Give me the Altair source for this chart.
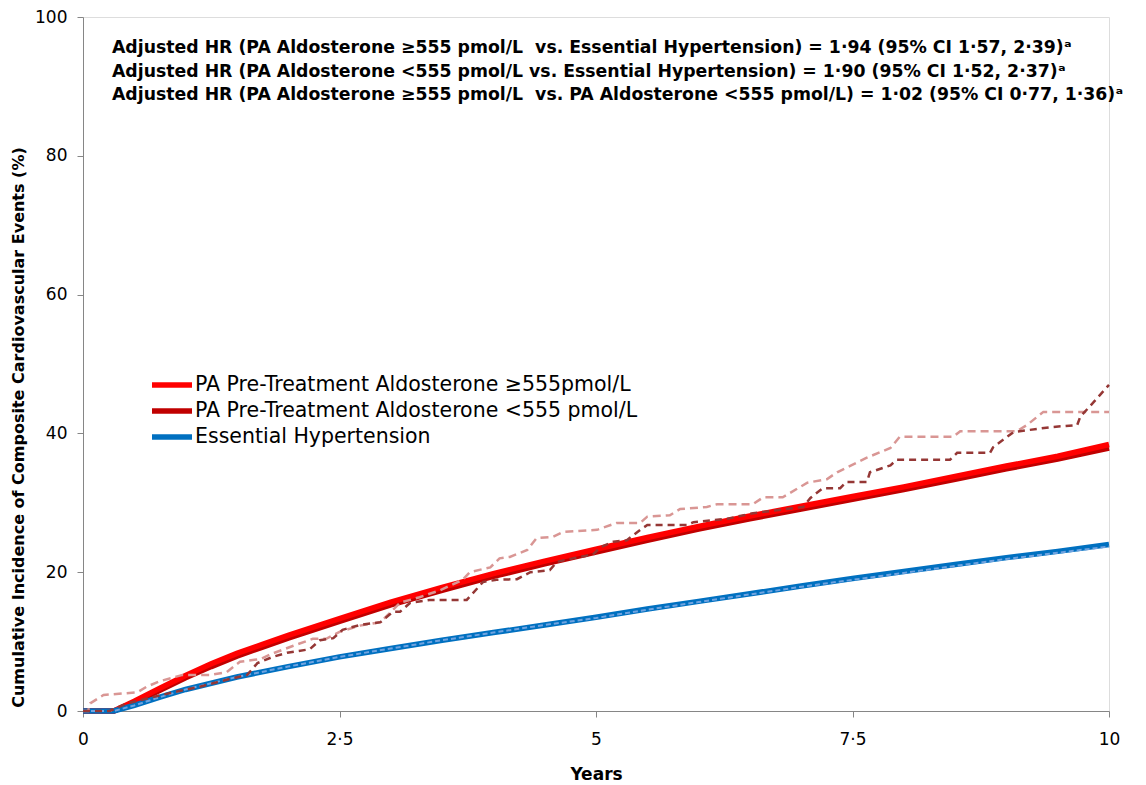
import altair as alt
import pandas as pd

S1 = "PA Pre-Treatment Aldosterone ≥555pmol/L"
S2 = "PA Pre-Treatment Aldosterone <555 pmol/L"
S3 = "Essential Hypertension"
series = [S1, S2, S3]
colors = ["#FF0000", "#C00000", "#0070C0"]

# Adjusted (smooth) curves
red_t = [0, 0.3, 0.5, 0.75, 1.0, 1.25, 1.5, 1.75, 2.0, 2.5, 3.0, 3.5, 4.0, 4.5, 5.0,
         5.5, 6.0, 6.5, 7.0, 7.5, 8.0, 8.5, 9.0, 9.5, 10.0]
red_hi_v = [0, 0, 1.4, 3.3, 5.1, 6.8, 8.3, 9.6, 10.9, 13.3, 15.7, 17.8, 19.8, 21.6, 23.3,
            25.0, 26.6, 28.1, 29.5, 30.9, 32.3, 33.8, 35.3, 36.7, 38.4]
red_lo_v = [0, 0, 1.2, 3.0, 4.8, 6.4, 7.9, 9.2, 10.5, 12.9, 15.3, 17.4, 19.4, 21.2, 22.9,
            24.6, 26.2, 27.7, 29.1, 30.5, 31.9, 33.4, 34.9, 36.3, 37.9]
blue_t = [0, 0.3, 0.5, 0.75, 1.0, 1.5, 2.0, 2.5, 3.0, 3.5, 4.0, 4.5, 5.0, 5.5, 6.0,
          6.5, 7.0, 7.5, 8.0, 8.5, 9.0, 9.5, 10.0]
blue_v = [0, 0, 0.8, 2.0, 3.1, 4.9, 6.4, 7.8, 9.0, 10.2, 11.3, 12.4, 13.5, 14.7, 15.8,
          16.9, 18.0, 19.1, 20.1, 21.1, 22.1, 23.0, 24.0]
blue_km_v = [0, 0, 0.8, 2.0, 3.1, 4.9, 6.4, 7.8, 9.0, 10.2, 11.3, 12.4, 13.4, 14.6, 15.7,
             16.8, 17.9, 18.9, 19.9, 20.9, 21.9, 22.8, 23.7]

# Kaplan-Meier style (dashed) curves
pink_t = [0, 0.05, 0.07, 0.2, 0.53, 0.62, 0.75, 0.97, 1.24, 1.4, 1.53, 1.73, 1.85, 2.05,
          2.24, 2.37, 2.5, 2.7, 2.9, 3.09, 3.28, 3.48, 3.7, 3.77, 3.97, 4.06, 4.16, 4.33,
          4.42, 4.58, 4.68, 5.01, 5.2, 5.43, 5.5, 5.72, 5.82, 6.08, 6.18, 6.53, 6.63, 6.82,
          7.06, 7.25, 7.35, 7.64, 7.87, 7.96, 8.48, 8.55, 9.1, 9.2, 9.36, 10.0]
pink_v = [0, 0, 1.1, 2.3, 2.7, 3.5, 4.3, 5.2, 5.2, 5.6, 7.1, 7.5, 8.3, 9.4,
          10.4, 10.4, 11.4, 12.3, 12.8, 15.6, 16.4, 17.4, 18.9, 20.0, 20.7, 22.0, 22.2, 23.2,
          24.9, 25.1, 25.8, 26.1, 27.1, 27.1, 28.0, 28.2, 29.1, 29.4, 29.8, 29.8, 30.8, 30.8,
          32.9, 33.4, 34.4, 36.5, 37.9, 39.5, 39.5, 40.3, 40.3, 41.2, 43.1, 43.1]
dark_t = [0, 0.26, 0.43, 0.68, 0.85, 1.14, 1.4, 1.6, 1.7, 1.85, 1.99, 2.21, 2.31, 2.44,
          2.53, 2.7, 2.9, 3.02, 3.09, 3.19, 3.38, 3.74, 3.9, 4.03, 4.23, 4.36, 4.55, 4.62,
          4.84, 4.97, 5.04, 5.17, 5.3, 5.43, 5.5, 5.89, 5.95, 6.28, 6.53, 7.02, 7.09, 7.21,
          7.38, 7.44, 7.64, 7.67, 7.87, 7.93, 8.45, 8.52, 8.84, 8.87, 9.07, 9.43, 9.69, 9.72,
          9.85, 10.0]
dark_v = [0, 0, 1.1, 2.0, 2.6, 3.5, 4.5, 5.2, 6.9, 7.8, 8.4, 8.9, 10.2, 10.5,
          11.7, 12.4, 12.8, 14.3, 14.3, 15.6, 16.0, 16.0, 18.6, 18.9, 19.0, 20.0, 20.3, 21.5,
          22.2, 22.5, 23.6, 24.4, 24.6, 26.1, 26.8, 26.8, 27.2, 27.7, 28.5, 29.4, 30.7, 32.1,
          32.1, 33.0, 33.0, 34.4, 35.4, 36.2, 36.2, 37.2, 37.2, 38.0, 40.2, 40.9, 41.2, 42.4,
          44.5, 47.0]

x_ticks = [0, 2.5, 5, 7.5, 10]
y_ticks = [0, 20, 40, 60, 80, 100]

notes = [
    "Adjusted HR (PA Aldosterone ≥555 pmol/L\u00a0 vs. Essential Hypertension) = 1·94 (95% CI 1·57, 2·39)ᵃ",
    "Adjusted HR (PA Aldosterone <555 pmol/L vs. Essential Hypertension) = 1·90 (95% CI 1·52, 2·37)ᵃ",
    "Adjusted HR (PA Aldosterone ≥555 pmol/L\u00a0 vs. PA Aldosterone <555 pmol/L) = 1·02 (95% CI 0·77, 1·36)ᵃ",
]

solid = pd.concat([
    pd.DataFrame({"t": red_t, "v": red_lo_v, "s": S2}),
    pd.DataFrame({"t": red_t, "v": red_hi_v, "s": S1}),
    pd.DataFrame({"t": blue_t, "v": blue_v, "s": S3}),
], ignore_index=True)
blue_km = pd.DataFrame({"t": blue_t, "v": blue_km_v})
pink_km = pd.DataFrame({"t": pink_t, "v": pink_v})
dark_km = pd.DataFrame({"t": dark_t, "v": dark_v})

FONT = "DejaVu Sans"
AX = "#868686"

xenc = alt.X("t:Q", scale=alt.Scale(domain=[0, 10], nice=False),
             axis=alt.Axis(values=x_ticks, grid=False, domainColor=AX, tickColor=AX, tickSize=6,
                           format="~g", labelExpr="replace(datum.label, '.', '·')", labelFlush=False,
                           labelFont=FONT, labelFontSize=17, labelColor="black", labelPadding=14,
                           title="Years", titleFont=FONT, titleFontSize=17, titleFontWeight="bold",
                           titleColor="black", titleY=68, titleBaseline="alphabetic"))
yenc = alt.Y("v:Q", scale=alt.Scale(domain=[0, 100], nice=False),
             axis=alt.Axis(values=y_ticks, grid=False, domainColor=AX, tickColor=AX, tickSize=6,
                           labelFont=FONT, labelFontSize=17, labelColor="black", labelPadding=10,
                           title="Cumulative Incidence of Composite Cardiovascular Events (%)",
                           titleFont=FONT, titleFontSize=16, titleFontWeight="bold", titleColor="black",
                           titleX=-65, titleY=410, titleAngle=270, titleAlign="center",
                           titleBaseline="middle"))

solid_layer = alt.Chart(solid).mark_line(strokeWidth=5.5).encode(
    x=xenc, y=yenc,
    color=alt.Color("s:N", sort=None,
                    scale=alt.Scale(domain=series, range=colors),
                    legend=None),
)

blue_km_layer = alt.Chart(blue_km).mark_line(color="#6FA3E0", strokeWidth=2, strokeDash=[5, 3]).encode(
    x="t:Q", y="v:Q")
pink_layer = alt.Chart(pink_km).mark_line(color="#D99694", strokeWidth=2.5, strokeDash=[8, 5]).encode(
    x="t:Q", y="v:Q")
dark_layer = alt.Chart(dark_km).mark_line(color="#953735", strokeWidth=2.5, strokeDash=[7, 5]).encode(
    x="t:Q", y="v:Q")

# manual legend (three rows)
legend_layers = []
for i, (name, col) in enumerate(zip(series, colors)):
    ypos = 368 + i * 26
    ldf = pd.DataFrame({"name": [name]})
    legend_layers.append(
        alt.Chart(ldf).mark_rule(color=col, strokeWidth=5.5).encode(
            x=alt.value(69), x2=alt.value(109), y=alt.value(ypos))
    )
    legend_layers.append(
        alt.Chart(ldf).mark_text(align="left", baseline="middle", font=FONT, fontSize=20.5,
                                 color="black").encode(
            text="name:N", x=alt.value(112), y=alt.value(ypos))
    )

note_layers = []
for i, txt in enumerate(notes):
    note_layers.append(
        alt.Chart(pd.DataFrame({"txt": [txt]})).mark_text(
            align="left", baseline="middle", font=FONT, fontSize=17.3, fontWeight="bold", color="black"
        ).encode(text="txt:N", x=alt.value(29), y=alt.value(31 + i * 23.5))
    )

chart = alt.layer(solid_layer, blue_km_layer, pink_layer, dark_layer,
                  *legend_layers, *note_layers).properties(
    width=1026, height=694,
    padding={"left": 75, "top": 9, "right": 20, "bottom": 72},
    autosize=alt.AutoSizeParams(type="none"),
).configure_view(stroke=None).configure(background="white")

chart.save("out.html", embed_options={"renderer": "svg", "actions": False})
